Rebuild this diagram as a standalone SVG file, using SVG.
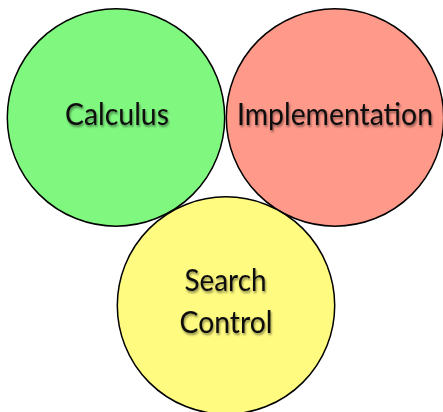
<svg xmlns="http://www.w3.org/2000/svg" width="443" height="412" viewBox="0 0 443 412">
  <defs>
    <filter id="soft" x="-10%" y="-30%" width="120%" height="160%">
      <feGaussianBlur in="SourceAlpha" stdDeviation="1.2"/>
      <feOffset dx="1" dy="1.5" result="b"/>
      <feComponentTransfer><feFuncA type="linear" slope="0.45"/></feComponentTransfer>
      <feMerge><feMergeNode/><feMergeNode in="SourceGraphic"/></feMerge>
    </filter>
  </defs>
  <style>
    .ring { stroke: #000; stroke-width: 1.5; }
    .lbl { font-family: Lato, "DejaVu Sans", sans-serif; font-size: 30px; fill: #111; text-anchor: middle; filter: url(#soft); }
  </style>
  <rect width="443" height="412" fill="#fff"/>
  <g id="calculus">
    <circle class="ring" cx="116" cy="117.5" r="108.7" fill="#80F880"/>
    <text class="lbl" x="117" y="125" textLength="104" lengthAdjust="spacingAndGlyphs">Calculus</text>
  </g>
  <g id="implementation">
    <circle class="ring" cx="335" cy="117.5" r="108.7" fill="#FF998A"/>
    <text class="lbl" x="335" y="125" textLength="196" lengthAdjust="spacingAndGlyphs">Implementation</text>
  </g>
  <g id="search-control">
    <circle class="ring" cx="226" cy="305.5" r="108.7" fill="#FFFA80"/>
    <text class="lbl" x="225.5" y="291" textLength="82" lengthAdjust="spacingAndGlyphs">Search</text>
    <text class="lbl" x="226" y="333" textLength="93" lengthAdjust="spacingAndGlyphs">Control</text>
  </g>
  <g id="connectors"/>
</svg>
